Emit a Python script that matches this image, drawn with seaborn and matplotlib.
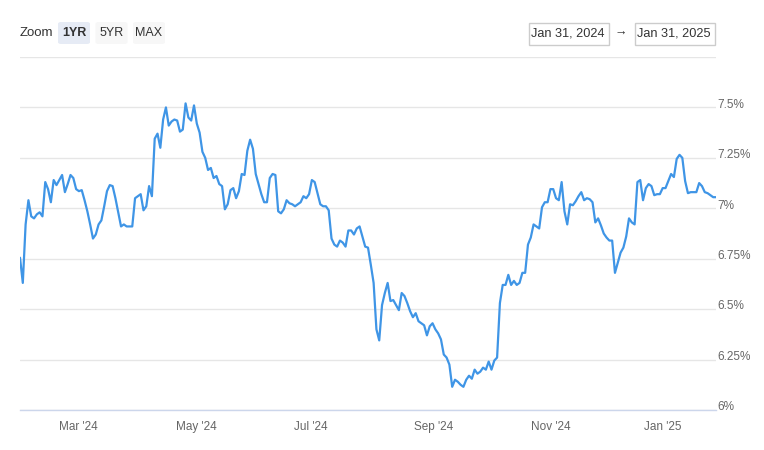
import numpy as np
import pandas as pd
import matplotlib
matplotlib.use("Agg")
import matplotlib.pyplot as plt
from matplotlib.transforms import ScaledTranslation
from matplotlib.patches import FancyBboxPatch, Rectangle
import seaborn as sns

# ---- data (30-yr rate, %, business days Jan 31 2024 -> Jan 31 2025) ----
seg_feb_apr = [6.755, 6.63, 6.92, 7.04, 6.96, 6.95, 6.97, 6.98, 6.96, 7.13, 7.095, 7.03,
               7.14, 7.115, 7.14, 7.165, 7.08, 7.12, 7.165, 7.15, 7.095, 7.085, 7.09, 7.04,
               6.985, 6.92, 6.85, 6.87, 6.92, 6.94, 7.01, 7.085, 7.115, 7.11, 7.05, 6.98,
               6.91, 6.92, 6.91, 6.91, 6.91, 7.05, 7.06, 7.07, 6.99, 7.01, 7.11, 7.06,
               7.345, 7.37, 7.30, 7.44, 7.50, 7.41, 7.43, 7.44, 7.435, 7.38, 7.39, 7.52, 7.45]
seg_may_aug = [7.435, 7.51, 7.42, 7.375, 7.28, 7.25, 7.19, 7.20, 7.15, 7.16, 7.12, 7.11,
               6.995, 7.02, 7.09, 7.10, 7.05, 7.085, 7.17, 7.165, 7.285, 7.34, 7.295, 7.17,
               7.12, 7.07, 7.03, 7.03, 7.15, 7.17, 7.165, 6.985, 6.975, 6.995, 7.04, 7.025,
               7.02, 7.01, 7.02, 7.03, 7.06, 7.05, 7.07, 7.14, 7.13, 7.075, 7.02, 7.01,
               7.01, 6.99, 6.85, 6.82, 6.81, 6.84, 6.83, 6.81, 6.89, 6.89, 6.87, 6.90,
               6.91, 6.86, 6.81, 6.805]
seg_aug_oct = [6.72, 6.63, 6.40, 6.345, 6.52, 6.58, 6.63, 6.54, 6.545, 6.52, 6.495, 6.58,
               6.565, 6.53, 6.49, 6.46, 6.48, 6.44, 6.43, 6.42, 6.37, 6.415, 6.43, 6.40,
               6.38, 6.35, 6.275, 6.26, 6.225, 6.115, 6.15, 6.14, 6.125, 6.115, 6.15, 6.17,
               6.155, 6.20, 6.18, 6.19, 6.21, 6.20, 6.24, 6.20, 6.245, 6.26, 6.53, 6.62,
               6.62, 6.67, 6.62, 6.64, 6.62, 6.63, 6.68, 6.68, 6.82, 6.855, 6.92, 6.91,
               6.90, 7.005, 7.03]
seg_nov_jan = [7.03, 7.095, 7.095, 7.05, 7.04, 7.13, 6.985, 6.92, 7.02, 7.015, 7.035, 7.06,
               7.08, 7.04, 7.05, 7.045, 7.03, 6.93, 6.95, 6.915, 6.875, 6.855, 6.84, 6.84,
               6.68, 6.73, 6.78, 6.805, 6.86, 6.95, 6.93, 6.92, 7.13, 7.14, 7.04, 7.10,
               7.12, 7.11, 7.065, 7.07, 7.07, 7.10, 7.10, 7.135, 7.17, 7.155, 7.245, 7.265,
               7.25, 7.135, 7.075, 7.08, 7.08, 7.08, 7.125, 7.11, 7.08, 7.075, 7.065, 7.055,
               7.055]
rates = seg_feb_apr + seg_may_aug + seg_aug_oct + seg_nov_jan

holidays = ["2024-02-19", "2024-03-29", "2024-05-27", "2024-06-19", "2024-07-04",
            "2024-09-02", "2024-10-14", "2024-11-11", "2024-11-28", "2024-12-25",
            "2025-01-01", "2025-01-09", "2025-01-20"]
start_date, end_date = "2024-01-31", "2025-01-31"
tick_months = ["2024-03-01", "2024-05-01", "2024-07-01", "2024-09-01", "2024-11-01", "2025-01-01"]
tick_labels = ["Mar '24", "May '24", "Jul '24", "Sep '24", "Nov '24", "Jan '25"]
y_ticks = [6.0, 6.25, 6.5, 6.75, 7.0, 7.25, 7.5, 7.75]
y_labels = ["6%", "6.25%", "6.5%", "6.75%", "7%", "7.25%", "7.5%", ""]
zoom_buttons = ["1YR", "5YR", "MAX"]
range_from, range_to = "Jan 31, 2024", "Jan 31, 2025"

# ---- ordinal (trading-day) axis ----
bdays = pd.bdate_range(start_date, end_date, freq="C", holidays=holidays)
n = len(rates)
scale = (n - 1) / (len(bdays) - 1)
df = pd.DataFrame({"pos": np.arange(n), "rate": rates})
tick_pos = [bdays.searchsorted(pd.Timestamp(m)) * scale for m in tick_months]

sns.set_style("white")
plt.rcParams["font.family"] = ["Liberation Sans", "DejaVu Sans"]

W, H = 764, 450
fig = plt.figure(figsize=(W / 100, H / 100), dpi=100)
ax = fig.add_axes([20 / W, 40 / H, 696 / W, 353 / H])

sns.lineplot(data=df, x="pos", y="rate", ax=ax, color="#3f95e6", linewidth=1.6)

ax.set_xlim(0, n - 1)
ax.set_ylim(6.0, 7.75)
ax.set_yticks(y_ticks)
ax.set_yticklabels(y_labels)
ax.yaxis.tick_right()
ax.grid(axis="y", color="#e6e6e6", linewidth=1.0)
ax.grid(axis="x", visible=False)
ax.tick_params(axis="y", length=0, pad=1, labelsize=8.5, labelcolor="#666666")
for lbl in ax.get_yticklabels():
    lbl.set_transform(lbl.get_transform() + ScaledTranslation(0, 3 / 72, fig.dpi_scale_trans))

ax.set_xticks(tick_pos)
ax.set_xticklabels(tick_labels)
ax.tick_params(axis="x", length=6, width=1, color="#ccd6eb", pad=2,
               labelsize=8.5, labelcolor="#666666")
for s in ["top", "left", "right"]:
    ax.spines[s].set_visible(False)
ax.spines["bottom"].set_color("#ccd6eb")
ax.spines["bottom"].set_linewidth(1)
ax.set_xlabel("")
ax.set_ylabel("")

# ---- range selector header (pixel-based helpers) ----
def px_box(x0, y0, w, h, fc, ec="none", rounded=True):
    if rounded:
        p = FancyBboxPatch((x0 / W, 1 - (y0 + h) / H), w / W, h / H,
                           boxstyle="round,pad=0,rounding_size=0.004",
                           transform=fig.transFigure, fc=fc, ec=ec, lw=1)
    else:
        p = Rectangle((x0 / W, 1 - (y0 + h) / H), w / W, h / H,
                      transform=fig.transFigure, fc=fc, ec=ec, lw=1)
    fig.add_artist(p)

cy = 1 - 33 / H
fig.text(20 / W, cy, "Zoom", fontsize=9.5, color="#333333", va="center", ha="left")
for i, txt in enumerate(zoom_buttons):
    x0 = 58 + i * 37.5
    px_box(x0, 22, 32, 22, "#e6ebf5" if i == 0 else "#f7f7f7")
    fig.text((x0 + 16) / W, cy, txt, fontsize=9, color="#333333", va="center", ha="center",
             fontweight="bold" if i == 0 else "normal")

px_box(528.5, 22.5, 80, 22, "white", ec="#cccccc", rounded=False)
px_box(634.5, 22.5, 80, 22, "white", ec="#cccccc", rounded=False)
fig.text(568 / W, cy, range_from, fontsize=9.2, color="#333333", va="center", ha="center")
fig.text(674 / W, cy, range_to, fontsize=9.2, color="#333333", va="center", ha="center")
fig.text(621 / W, cy, "\u2192", fontsize=9, color="#333333", va="center", ha="center")

fig.savefig("out.png", dpi=100)
